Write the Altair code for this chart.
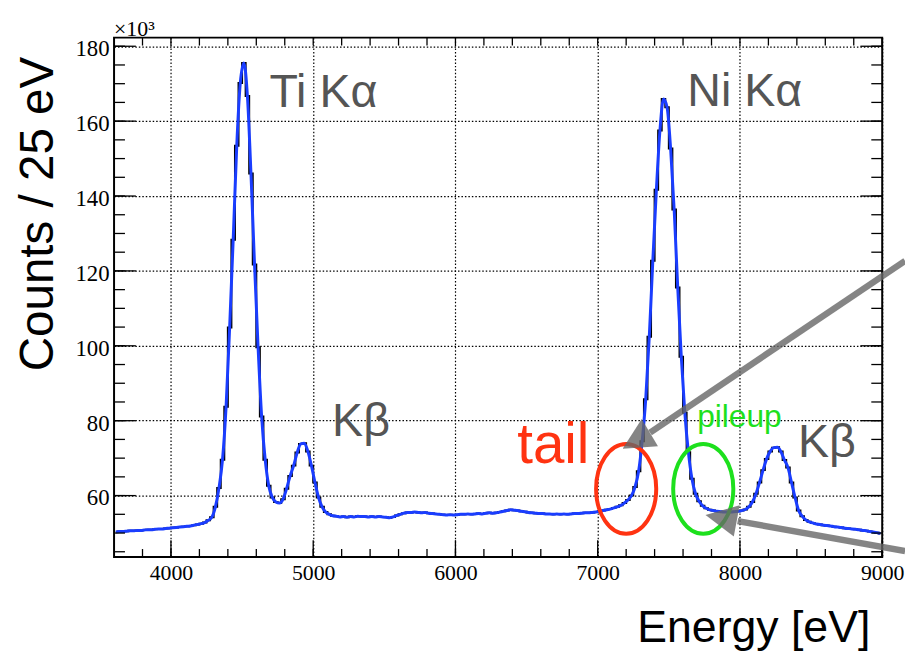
import altair as alt
import pandas as pd

# ---------------- data (counts in units of 10^3 per 25 eV bin, bins start at 3600 eV) ----------------
bin_start = 3600
bin_width = 25
counts = [
    50.3, 50.4, 50.4, 50.5, 50.6, 50.6, 50.7, 50.7,        # 3600
    50.8, 50.9, 50.9, 51.0, 51.1, 51.1, 51.2, 51.3,        # 3800
    51.4, 51.5, 51.6, 51.7, 51.8, 51.9, 52.1, 52.3,        # 4000
    52.5, 52.8, 53.4, 54.2, 57.0, 62.0, 69.6, 83.7,        # 4200
    104.9, 128.3, 153.4, 170.2, 175.5, 166.7, 146.0, 121.7,  # 4400
    99.6, 81.1, 69.6, 62.6, 59.5, 58.3, 58.0, 59.0,        # 4600
    61.8, 65.2, 68.0, 71.5, 73.8, 74.0, 71.8, 68.0,        # 4800
    63.5, 59.5, 57.0, 55.6, 55.0, 54.6, 54.5, 54.3,        # 5000
    54.4, 54.2, 54.4, 54.3, 54.5, 54.4, 54.4, 54.3,        # 5200
    54.4, 54.3, 54.4, 54.3, 54.2, 54.1, 54.3, 54.7,        # 5400
    55.0, 55.3, 55.5, 55.5, 55.6, 55.5, 55.4, 55.5,        # 5600
    55.3, 55.2, 55.1, 55.0, 54.9, 54.8, 54.9, 54.8,        # 5800
    54.9, 55.0, 55.0, 55.1, 55.0, 55.1, 55.2, 55.1,        # 6000
    55.3, 55.4, 55.3, 55.4, 55.6, 55.8, 56.0, 56.2,        # 6200
    56.1, 56.0, 55.8, 55.7, 55.5, 55.4, 55.3, 55.2,        # 6400
    55.2, 55.1, 55.1, 55.0, 55.1, 55.0, 55.1, 55.0,        # 6600
    55.1, 55.2, 55.2, 55.3, 55.4, 55.4, 55.5, 55.6,        # 6800
    55.8, 56.0, 56.2, 56.4, 56.7, 57.0, 57.4, 58.0,        # 7000
    58.8, 60.0, 62.3, 66.5, 74.5, 85.7, 102.4, 122.7,      # 7200
    141.7, 157.5, 165.9, 163.7, 152.7, 136.4, 115.6, 97.1,  # 7400
    82.1, 71.6, 64.5, 60.5, 58.5, 57.3, 56.6, 56.2,        # 7600
    56.0, 55.8, 55.7, 55.6, 55.6, 55.6, 55.7, 55.8,        # 7800
    56.0, 56.3, 57.0, 58.3, 60.5, 63.5, 66.8, 69.8,        # 8000
    71.8, 72.8, 72.9, 71.8, 69.5, 67.5, 63.5, 59.5,        # 8200
    56.0, 54.5, 53.5, 53.0, 52.7, 52.4, 52.3, 52.1,        # 8400
    52.0, 51.9, 51.7, 51.6, 51.5, 51.3, 51.2, 51.1,        # 8600
    51.0, 50.9, 50.7, 50.6, 50.4, 50.3, 50.1, 49.9,        # 8800
]
energy = [bin_start + bin_width * i + bin_width / 2 for i in range(len(counts))]

x_major = [4000, 5000, 6000, 7000, 8000, 9000]
x_minor = list(range(3800, 9001, 200))
y_major = [60, 80, 100, 120, 140, 160, 180]
y_minor = list(range(45, 181, 5))

x_domain = [3600, 9000]
y_domain = [43.6, 182.3]

# annotation labels (data coordinates)
lab_text = ["Ti K\u03b1", "Ni K\u03b1", "K\u03b2", "K\u03b2"]
lab_x = [4692, 7630, 5133, 8408]
lab_y = [163.8, 164.0, 76.0, 70.3]

tail_text, tail_x, tail_y = ["tail"], [6434], [68.7]
pile_text, pile_x, pile_y = ["pileup"], [7699], [78.2]

ell_x = [7200, 7742]
ell_y = [61.8, 61.8]
ell_col = ["red", "green"]

arrow_x0 = [9161, 9161]
arrow_y0 = [122.7, 45.2]
arrow_xb = [7368, 7984]
arrow_yb = [76.8, 53.2]
arrow_xt = [7175, 7758]
arrow_yt = [72.5, 54.8]
arrow_angle = [239.2, 280.5]

RED = "#ff3311"
GREEN = "#1de01d"
GRAY = "#555555"
BLUE = "#1a3dff"
W, H = 775, 524

xs = alt.Scale(domain=x_domain, nice=False, zero=False)
ys = alt.Scale(domain=y_domain, nice=False, zero=False)

x_axis = alt.Axis(values=x_major, format="d", grid=True, ticks=False, domain=False, title=None,
                  labelFont="Liberation Serif", labelFontSize=22, labelColor="black",
                  labelPadding=6, labelFlush=False, labelOverlap=False,
                  gridColor="black", gridDash=[1.5, 2], gridWidth=1.2, gridOpacity=1)
y_axis = alt.Axis(values=y_major, format="d", grid=True, ticks=False, domain=False, title=None,
                  labelFont="Liberation Serif", labelFontSize=23, labelColor="black",
                  labelPadding=5, labelOffset=2.5, labelFlush=False, labelOverlap=False,
                  gridColor="black", gridDash=[1.5, 2], gridWidth=1.2, gridOpacity=1)


def X(field):
    return alt.X(field, scale=xs, axis=x_axis)


def Y(field):
    return alt.Y(field, scale=ys, axis=y_axis)


df = pd.DataFrame({"energy": energy, "counts": counts})

hist = alt.Chart(df).mark_line(interpolate="step", color="black", strokeWidth=2).encode(
    x=X("energy:Q"), y=Y("counts:Q"))
fit = alt.Chart(df).mark_line(interpolate="monotone", color=BLUE, strokeWidth=3).encode(
    x=X("energy:Q"), y=Y("counts:Q"))


def xticks(vals, y0, y1):
    return alt.Chart(pd.DataFrame({"v": vals})).mark_rule(color="black", strokeWidth=1.3).encode(
        x=X("v:Q"), y=alt.value(y0), y2=alt.value(y1))


def yticks(vals, x0, x1):
    return alt.Chart(pd.DataFrame({"v": vals})).mark_rule(color="black", strokeWidth=1.3).encode(
        y=Y("v:Q"), x=alt.value(x0), x2=alt.value(x1))


ticks = [
    xticks(x_minor, H, H - 8), xticks(x_major, H, H - 17),
    xticks(x_minor, 0, 8),
    yticks(y_minor, 0, 11), yticks(y_major, 0, 22),
    yticks(y_minor, W, W - 11), yticks(y_major, W, W - 22),
]


def text_layer(texts, xv, yv, color, size):
    d = pd.DataFrame({"t": texts, "x": xv, "y": yv})
    return alt.Chart(d).mark_text(align="left", baseline="alphabetic", font="Liberation Sans",
                                  fontSize=size, color=color).encode(
        x=X("x:Q"), y=Y("y:Q"), text="t:N")


labels = text_layer(lab_text, lab_x, lab_y, GRAY, 47)
tail = text_layer(tail_text, tail_x, tail_y, RED, 57)
pile = text_layer(pile_text, pile_x, pile_y, GREEN, 32)

# ellipse outline (unit-box symbol path, cubic Bezier approximation)
rx, ry, k = 0.67, 1.0, 0.5523
ELLIPSE = (f"M {rx} 0 C {rx} {k*ry} {k*rx} {ry} 0 {ry} "
           f"C {-k*rx} {ry} {-rx} {k*ry} {-rx} 0 "
           f"C {-rx} {-k*ry} {-k*rx} {-ry} 0 {-ry} "
           f"C {k*rx} {-ry} {rx} {-k*ry} {rx} 0 Z")
ell = alt.Chart(pd.DataFrame({"x": ell_x, "y": ell_y, "c": ell_col})).mark_point(
    shape=ELLIPSE, size=8200, filled=False, strokeWidth=4, opacity=1).encode(
    x=X("x:Q"), y=Y("y:Q"),
    color=alt.Color("c:N", scale=alt.Scale(domain=["red", "green"], range=[RED, GREEN]), legend=None))

adf = pd.DataFrame({"x0": arrow_x0, "y0": arrow_y0, "xb": arrow_xb, "yb": arrow_yb,
                    "xt": arrow_xt, "yt": arrow_yt, "a": arrow_angle})
shafts = alt.Chart(adf).mark_rule(color="#666666", strokeWidth=6.5, opacity=0.8, strokeCap="butt").encode(
    x=X("x0:Q"), y=Y("y0:Q"), x2="xb:Q", y2="yb:Q")
HEAD = "M 0 0 L -1 2 L 1 2 Z"
heads = alt.Chart(adf).mark_point(shape=HEAD, size=1024, filled=True, color="#666666",
                                  opacity=0.8, strokeWidth=0).encode(
    x=X("xt:Q"), y=Y("yt:Q"), angle=alt.Angle("a:Q", scale=None))

exp = alt.Chart(pd.DataFrame({"t": ["\u00d710\u00b3"]})).mark_text(
    align="left", baseline="alphabetic", font="Liberation Serif", fontSize=22, color="black").encode(
    x=alt.value(0), y=alt.value(-2), text="t:N")

ytitle = alt.Chart(pd.DataFrame({"t": ["Counts / 25 eV"]})).mark_text(
    align="center", baseline="alphabetic", angle=270, font="Liberation Sans", fontSize=48,
    color="black").encode(x=alt.value(-62), y=alt.value(178), text="t:N")
xtitle = alt.Chart(pd.DataFrame({"t": ["Energy [eV]"]})).mark_text(
    align="right", baseline="alphabetic", font="Liberation Sans", fontSize=45,
    color="black").encode(x=alt.value(763), y=alt.value(610), text="t:N")

chart = alt.layer(hist, fit, *ticks, labels, tail, pile, ell, shafts, heads, exp, ytitle, xtitle).properties(
    width=W, height=H,
    autosize=alt.AutoSizeParams(type="none"),
    padding={"left": 107, "top": 27, "right": 23, "bottom": 98},
    background="white",
).configure_view(stroke="black", strokeWidth=2)

chart.save("out.html", embed_options={"renderer": "svg", "actions": False})
